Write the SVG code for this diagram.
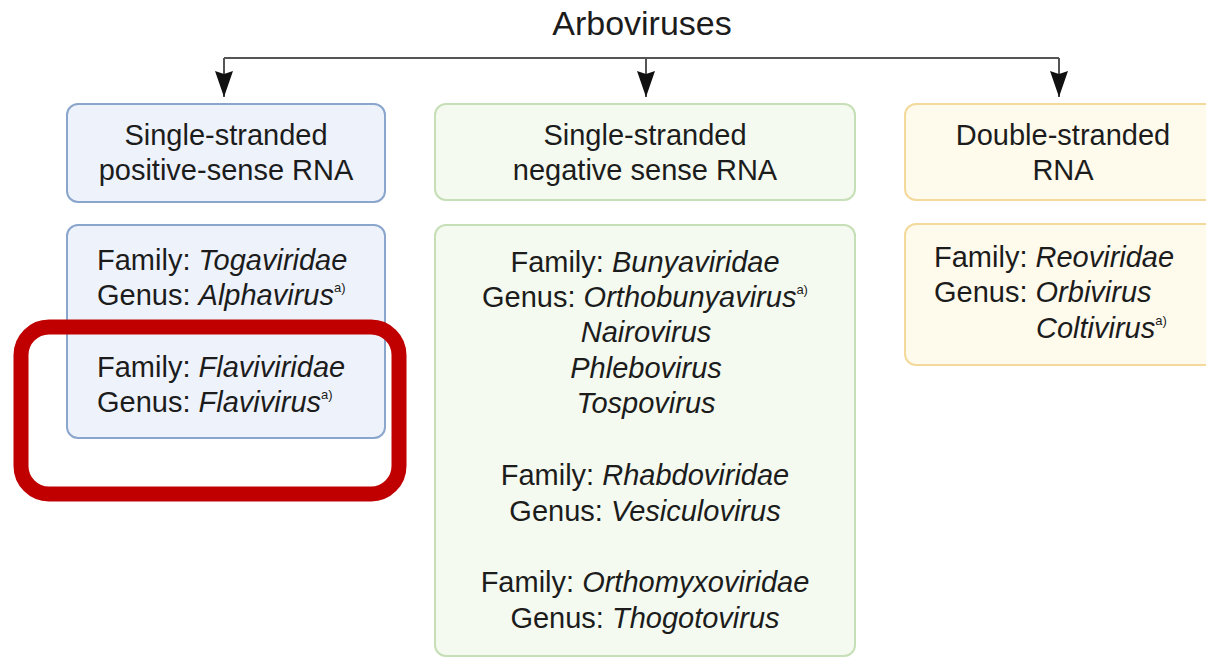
<svg xmlns="http://www.w3.org/2000/svg" width="1206" height="659" viewBox="0 0 1206 659">
  <defs>
    <marker id="arrow" viewBox="-1 -10 28 20" refX="26" refY="0" markerWidth="28" markerHeight="20" markerUnits="userSpaceOnUse" orient="auto">
      <path d="M0,-9 L26,0 L0,9 L3,0 Z" fill="#111"/>
    </marker>
  </defs>
  <style>
    text { font-family: "Liberation Sans", Arial, sans-serif; font-size: 29px; fill: #1c1c1c; }
    .title { font-size: 34px; }
    .it { font-style: italic; }
    .sup { font-size: 13px; }
    .c { text-anchor: middle; }
    .blue { fill: #eef3fb; stroke: #8aa6cc; stroke-width: 2; }
    .green { fill: #f4faef; stroke: #c6dfb6; stroke-width: 2; }
    .yellow { fill: #fefaec; stroke: #f3d99c; stroke-width: 2; }
    .conn { fill: none; stroke: #555; stroke-width: 2; }
  </style>
  <rect width="1206" height="659" fill="#ffffff"/>

  <g id="title">
    <text class="title c" x="642" y="35">Arboviruses</text>
  </g>

  <g id="connectors">
    <path class="conn" d="M224,58 H1059"/>
    <path class="conn" d="M224,58 V97" marker-end="url(#arrow)"/>
    <path class="conn" d="M646,58 V97" marker-end="url(#arrow)"/>
    <path class="conn" d="M1059,58 V97" marker-end="url(#arrow)"/>
  </g>

  <g id="ss-positive-header">
    <rect class="blue" x="67" y="104" width="318" height="98" rx="11"/>
    <text class="c" x="226" y="145">Single-stranded</text>
    <text class="c" x="226" y="180">positive-sense RNA</text>
  </g>

  <g id="ss-positive-body">
    <rect class="blue" x="67" y="225" width="318" height="213" rx="11"/>
    <text x="97" y="270">Family: <tspan class="it">Togaviridae</tspan></text>
    <text x="97" y="305">Genus: <tspan class="it">Alphavirus</tspan><tspan class="sup" dy="-13">a)</tspan></text>
    <text x="97" y="377">Family: <tspan class="it">Flaviviridae</tspan></text>
    <text x="97" y="412">Genus: <tspan class="it">Flavivirus</tspan><tspan class="sup" dy="-13">a)</tspan></text>
  </g>

  <g id="ss-negative-header">
    <rect class="green" x="435" y="104" width="420" height="96" rx="11"/>
    <text class="c" x="645" y="145">Single-stranded</text>
    <text class="c" x="645" y="180">negative sense RNA</text>
  </g>

  <g id="ss-negative-body">
    <rect class="green" x="435" y="225" width="420" height="431" rx="11"/>
    <text class="c" x="645" y="272">Family: <tspan class="it">Bunyaviridae</tspan></text>
    <text class="c" x="645" y="307">Genus: <tspan class="it">Orthobunyavirus</tspan><tspan class="sup" dy="-13">a)</tspan></text>
    <text class="c it" x="646" y="342">Nairovirus</text>
    <text class="c it" x="646" y="378">Phlebovirus</text>
    <text class="c it" x="646" y="413">Tospovirus</text>
    <text class="c" x="645" y="485">Family: <tspan class="it">Rhabdoviridae</tspan></text>
    <text class="c" x="645" y="521">Genus: <tspan class="it">Vesiculovirus</tspan></text>
    <text class="c" x="645" y="592">Family: <tspan class="it">Orthomyxoviridae</tspan></text>
    <text class="c" x="645" y="628">Genus: <tspan class="it">Thogotovirus</tspan></text>
  </g>

  <g id="ds-header">
    <rect class="yellow" x="905" y="104" width="320" height="96" rx="11"/>
    <text class="c" x="1063" y="145">Double-stranded</text>
    <text class="c" x="1063" y="180">RNA</text>
  </g>

  <g id="ds-body">
    <rect class="yellow" x="905" y="224" width="320" height="141" rx="11"/>
    <text x="934" y="267">Family: <tspan class="it">Reoviridae</tspan></text>
    <text x="934" y="302">Genus: <tspan class="it">Orbivirus</tspan></text>
    <text class="it" x="1036" y="338">Coltivirus<tspan class="sup" dy="-13" style="font-style:normal">a)</tspan></text>
  </g>

  <g id="highlight">
    <rect x="21" y="327" width="378" height="167" rx="28" fill="none" stroke="#c00000" stroke-width="15"/>
  </g>
</svg>
